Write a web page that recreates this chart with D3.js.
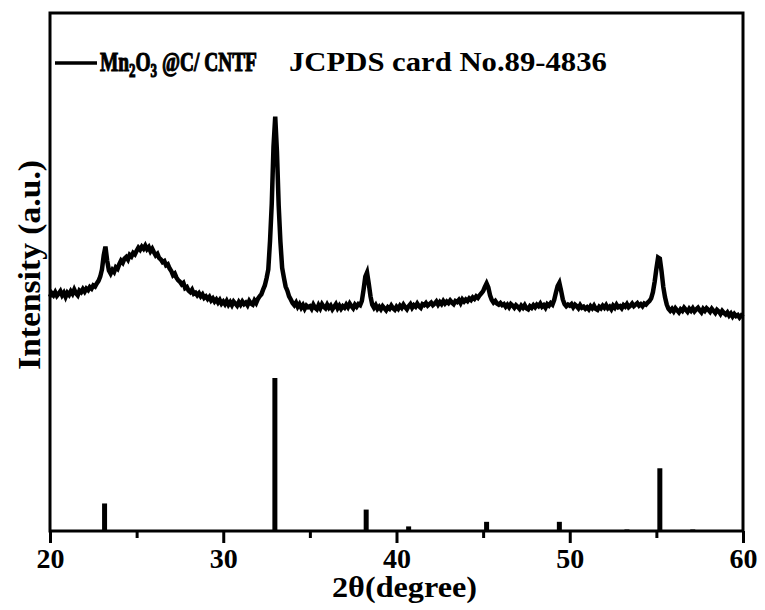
<!DOCTYPE html>
<html>
<head>
<meta charset="utf-8">
<script src="https://cdn.jsdelivr.net/npm/d3@7"></script>
<style>
body { margin: 0; background: #fff; }
text { font-family: "Liberation Serif", "Times New Roman", serif; font-weight: bold; }
</style>
</head>
<body>
<div id="mainContainer"></div>
<script>
// measured pattern, 2theta from 20 to 60 step 0.1 deg
var thetaStart = 20, thetaStep = 0.1;
var intensity = [
    452, 459, 455, 461, 454, 458, 463, 455, 460, 452,
    460, 456, 463, 458, 466, 459, 455, 464, 461, 467,
    462, 468, 465, 471, 468, 474, 472, 478, 483, 491,
    505, 532, 549, 522, 503, 497, 504, 500, 509, 506,
    515, 522, 518, 526, 529, 524, 533, 530, 537, 534,
    541, 547, 543, 549, 545, 551, 544, 548, 540, 545,
    538, 532, 535, 527, 524, 519, 521, 513, 515, 507,
    502, 494, 497, 489, 484, 481, 476, 479, 469, 471,
    464, 461, 466, 458, 460, 455, 459, 453, 457, 450,
    453, 448, 452, 445, 449, 443, 447, 441, 446, 439,
    443, 438, 444, 437, 442, 436, 443, 439, 435, 442,
    437, 443, 438, 441, 436, 444, 439, 437, 445, 440,
    448, 453, 457, 466, 474, 488, 505, 560, 632, 742,
    800, 732, 628, 558, 508, 489, 472, 464, 453, 447,
    440, 436, 441, 433, 438, 431, 436, 429, 435, 432,
    434, 429, 437, 431, 428, 436, 430, 438, 433, 430,
    437, 431, 435, 428, 433, 438, 430, 435, 429, 434,
    431, 437, 432, 439, 434, 430, 437, 433, 438, 436,
    444, 466, 491, 499, 477, 453, 437, 431, 436, 429,
    433, 428, 434, 430, 426, 432, 429, 435, 430, 427,
    433, 429, 435, 431, 437, 432, 428, 434, 438, 431,
    436, 433, 439, 434, 431, 438, 436, 440, 435, 438,
    441, 436, 439, 443, 437, 442, 438, 444, 439, 443,
    440, 445, 441, 438, 444, 442, 446, 440, 447, 443,
    447, 444, 449, 446, 451, 448, 453, 450, 455, 459,
    463, 471, 478, 470, 455, 446, 441, 444, 439, 437,
    440, 436, 438, 433, 437, 432, 438, 435, 431, 436,
    433, 429, 435, 431, 436, 430, 428, 434, 431, 436,
    432, 437, 434, 439, 433, 436, 431, 438, 435, 440,
    437, 446, 460, 473, 479, 464, 447, 438, 434, 437,
    435, 438, 432, 437, 434, 430, 436, 431, 433, 429,
    432, 428, 434, 430, 435, 429, 427, 433, 430, 435,
    431, 436, 430, 433, 428, 435, 431, 437, 432, 434,
    430, 436, 433, 438, 432, 435, 439, 434, 437, 440,
    435, 438, 434, 439, 437, 441, 444, 449, 461, 481,
    506, 528, 526, 501, 471, 451, 437, 429, 425, 429,
    424, 430, 426, 422, 428, 425, 431, 427, 423, 429,
    425, 430, 424, 428, 431, 426, 422, 429, 425, 430,
    427, 423, 429, 425, 421, 427, 424, 419, 425, 421,
    418, 422, 416, 420, 414, 419, 415, 417, 412, 416,
    413
];

// JCPDS 89-4836 reference lines
var refTheta = [23.15, 32.98, 38.25, 40.7, 45.2, 49.4, 53.3, 55.2, 57.1];
var refIntensity = [18, 100, 14, 3, 6, 6, 1, 41, 1];

var xTicks = [20, 30, 40, 50, 60];
var xMinorTicks = [25, 35, 45, 55];

var margin = { top: 13, right: 22, bottom: 79, left: 50 },
    width = 765 - margin.left - margin.right,
    height = 610 - margin.top - margin.bottom;

var svg = d3.select('#mainContainer').append('svg')
    .attr('width', width + margin.left + margin.right)
    .attr('height', height + margin.top + margin.bottom);

var g = svg.append('g')
    .attr('transform', 'translate(' + margin.left + ',' + margin.top + ')');

var xscale = d3.scaleLinear()
    .domain([20, 60])
    .range([0, width]);

var yscale = d3.scaleLinear()
    .domain([0, 1000])
    .range([height, 0]);

var refScale = d3.scaleLinear()
    .domain([0, 100])
    .range([height, height - 153]);

var points = intensity.map(function(d, i) {
    return [thetaStart + i * thetaStep, d];
});

var line = d3.line()
    .x(function(d) { return xscale(d[0]); })
    .y(function(d) { return yscale(d[1]); });

g.append('path')
    .datum(points)
    .attr('fill', 'none')
    .attr('stroke', '#000')
    .attr('stroke-width', 4.5)
    .attr('stroke-linejoin', 'miter')
    .attr('d', line);

g.selectAll('rect.ref')
    .data(refTheta)
    .enter().append('rect')
    .attr('class', 'ref')
    .attr('fill', '#000')
    .attr('x', function(d) { return xscale(d) - 2.5; })
    .attr('width', 5)
    .attr('y', function(d, i) { return refScale(refIntensity[i]); })
    .attr('height', function(d, i) { return height - refScale(refIntensity[i]); });

// frame
g.append('rect')
    .attr('x', 0)
    .attr('y', 0)
    .attr('width', width)
    .attr('height', height)
    .attr('fill', 'none')
    .attr('stroke', '#000')
    .attr('stroke-width', 3);

var xAxis = g.append('g')
    .attr('transform', 'translate(0,' + height + ')')
    .call(d3.axisBottom(xscale).tickValues(xTicks).tickSize(12).tickSizeOuter(0).tickFormat(d3.format('d')));
xAxis.select('.domain').remove();
xAxis.selectAll('line').attr('stroke-width', 3);
xAxis.selectAll('text')
    .attr('y', 17)
    .attr('dy', '0.71em')
    .attr('font-size', '28px')
    .attr('font-family', 'Liberation Serif')
    .attr('font-weight', 'bold')
    .attr('fill', '#000');

var xMinor = g.append('g')
    .attr('transform', 'translate(0,' + height + ')')
    .call(d3.axisBottom(xscale).tickValues(xMinorTicks).tickSize(7).tickFormat(''));
xMinor.select('.domain').remove();
xMinor.selectAll('line').attr('stroke-width', 3);

// squeeze a text horizontally to a measured width
function fitWidth(sel, w) {
    var bb = sel.node().getBBox();
    var s = w / bb.width;
    sel.attr('transform', 'translate(' + bb.x + ',0) scale(' + s + ',1) translate(' + (-bb.x) + ',0)');
}

g.append('text')
    .attr('x', 282)
    .attr('y', height + 66)
    .attr('font-size', '29px')
    .attr('textLength', 145)
    .attr('lengthAdjust', 'spacingAndGlyphs')
    .text('2θ(degree)');

g.append('text')
    .attr('transform', 'rotate(-90)')
    .attr('x', -(265 - margin.top))
    .attr('y', -10)
    .attr('text-anchor', 'middle')
    .attr('font-size', '31px')
    .attr('textLength', 210)
    .attr('lengthAdjust', 'spacingAndGlyphs')
    .text('Intensity (a.u.)');

// legend
var legend = g.append('g')
    .attr('transform', 'translate(5,' + (63 - margin.top) + ')');
legend.append('line')
    .attr('x1', 0)
    .attr('x2', 42)
    .attr('y1', 0)
    .attr('y2', 0)
    .attr('stroke', '#000')
    .attr('stroke-width', 3.5);
var lt = legend.append('text')
    .attr('x', 45)
    .attr('y', 8)
    .attr('font-size', '27px')
    .attr('stroke', '#000')
    .attr('stroke-width', 1.1);
lt.append('tspan').text('Mn');
lt.append('tspan').attr('font-size', '18px').attr('dy', 6).text('2');
lt.append('tspan').attr('dy', -6).text('O');
lt.append('tspan').attr('font-size', '18px').attr('dy', 6).text('3');
lt.append('tspan').attr('dy', -6).text(' @C/ CNTF');
fitWidth(lt, 157);
var lt2 = legend.append('text')
    .attr('x', 234)
    .attr('y', 8)
    .attr('font-size', '27px')
    .text('JCPDS card No.89-4836');
fitWidth(lt2, 318);
</script>
</body>
</html>
